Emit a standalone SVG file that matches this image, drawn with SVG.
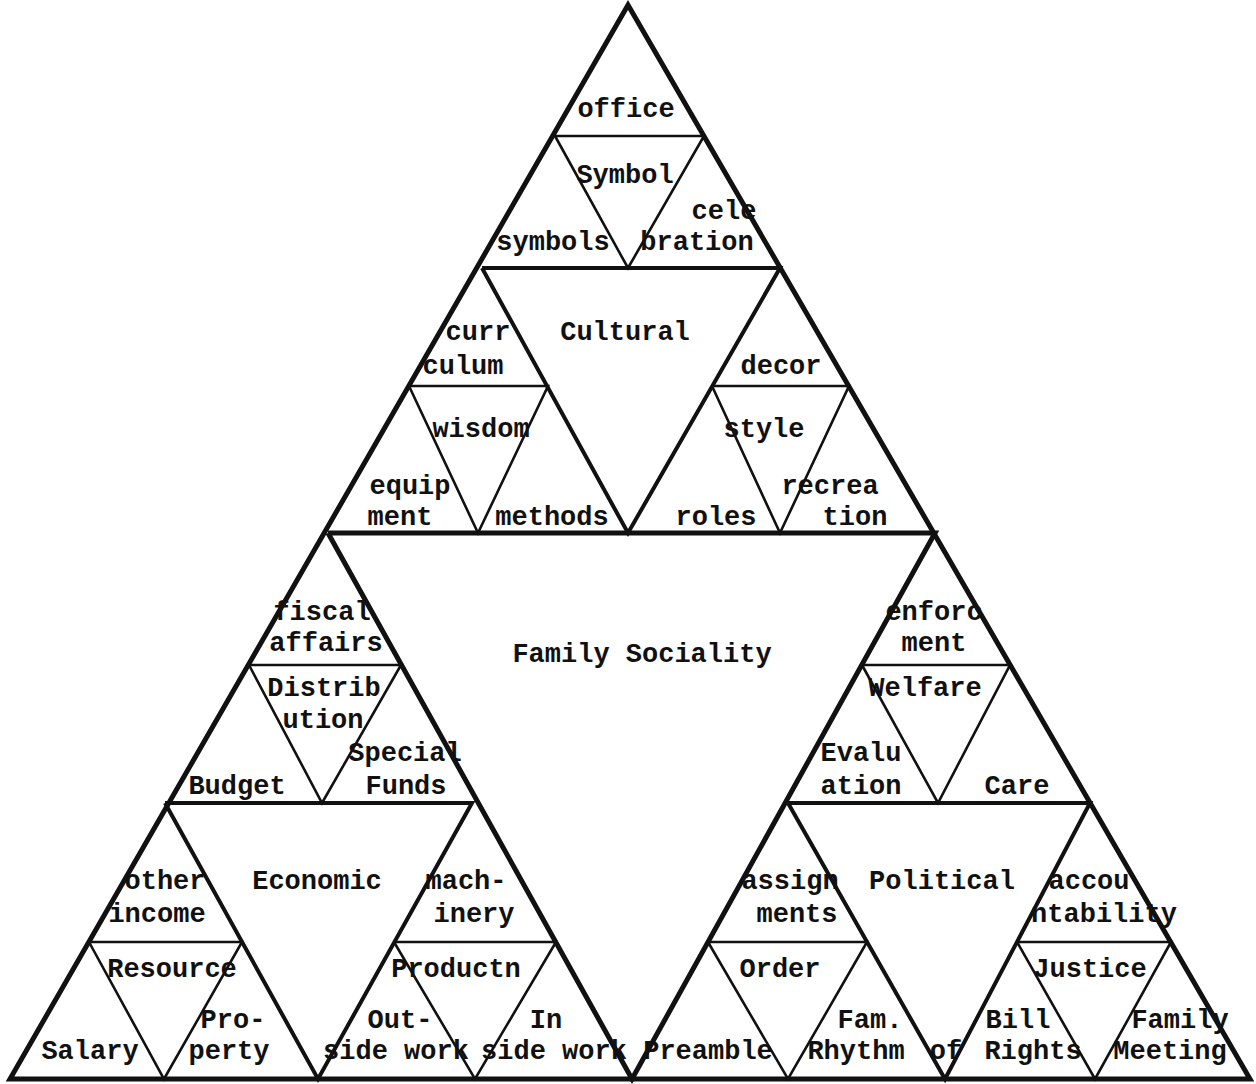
<svg xmlns="http://www.w3.org/2000/svg" width="1256" height="1084" viewBox="0 0 1256 1084">
<style>
.t{font-family:"Liberation Mono","Courier New",monospace;font-size:27px;font-weight:bold;fill:#111;text-anchor:middle}
.l1{stroke:#111;stroke-width:5;fill:none;stroke-linejoin:miter}
.l2{stroke:#111;stroke-width:4;fill:none}
.l3{stroke:#111;stroke-width:2.6;fill:none}
</style>
<rect width="1256" height="1084" fill="#fff"/>
<g id="connectors">
<polygon class="l1" points="628,5 10,1079 1250,1079"/>
<polyline class="l1" points="328,533 935,533 632,1079 328,533"/>
<polyline class="l2" points="482,268 780,268 628,533 482,268"/>
<polyline class="l2" points="165,803 472,803 318,1079 165,803"/>
<polyline class="l2" points="788,803 1090,803 945,1079 788,803"/>
<polyline class="l3" points="555,136 704,136 628,268 555,136"/>
<polyline class="l3" points="409,386 548,386 478,533 409,386"/>
<polyline class="l3" points="712,386 849,386 780,533 712,386"/>
<polyline class="l3" points="249,665 401,665 322,803 249,665"/>
<polyline class="l3" points="89,942 242,942 164,1079 89,942"/>
<polyline class="l3" points="394,942 556,942 475,1079 394,942"/>
<polyline class="l3" points="862,665 1010,665 938,803 862,665"/>
<polyline class="l3" points="708,942 867,942 788,1079 708,942"/>
<polyline class="l3" points="1017,942 1171,942 1095,1079 1017,942"/>
</g>
<g id="symbol">
<text class="t" x="626" y="117">office</text>
<text class="t" x="625" y="183">Symbol</text>
<text class="t" x="724" y="219">cele</text>
<text class="t" x="697" y="250">bration</text>
<text class="t" x="553" y="250">symbols</text>
</g>
<g id="cultural">
<text class="t" x="625" y="340">Cultural</text>
<text class="t" x="478" y="340">curr</text>
<text class="t" x="463" y="374">culum</text>
<text class="t" x="781" y="374">decor</text>
<text class="t" x="481" y="437">wisdom</text>
<text class="t" x="764" y="437">style</text>
<text class="t" x="410" y="494">equip</text>
<text class="t" x="400" y="525">ment</text>
<text class="t" x="552" y="525">methods</text>
<text class="t" x="716" y="525">roles</text>
<text class="t" x="830" y="494">recrea</text>
<text class="t" x="855" y="525">tion</text>
</g>
<g id="family-sociality">
<text class="t" x="642" y="662">Family Sociality</text>
</g>
<g id="distribution">
<text class="t" x="322" y="620">fiscal</text>
<text class="t" x="326" y="651">affairs</text>
<text class="t" x="324" y="696">Distrib</text>
<text class="t" x="323" y="728">ution</text>
<text class="t" x="405" y="761">Special</text>
<text class="t" x="406" y="794">Funds</text>
<text class="t" x="237" y="794">Budget</text>
</g>
<g id="economic">
<text class="t" x="317" y="889">Economic</text>
<text class="t" x="165" y="889">other</text>
<text class="t" x="157" y="922">income</text>
<text class="t" x="466" y="889">mach-</text>
<text class="t" x="474" y="922">inery</text>
</g>
<g id="resource">
<text class="t" x="172" y="977">Resource</text>
<text class="t" x="90" y="1059">Salary</text>
<text class="t" x="233" y="1028">Pro-</text>
<text class="t" x="229" y="1059">perty</text>
</g>
<g id="productn">
<text class="t" x="456" y="977">Productn</text>
<text class="t" x="400" y="1028">Out-</text>
<text class="t" x="396" y="1059">side work</text>
<text class="t" x="546" y="1028">In</text>
<text class="t" x="554" y="1059">side work</text>
</g>
<g id="welfare">
<text class="t" x="934" y="620">enforc</text>
<text class="t" x="934" y="651">ment</text>
<text class="t" x="925" y="696">Welfare</text>
<text class="t" x="861" y="761">Evalu</text>
<text class="t" x="861" y="794">ation</text>
<text class="t" x="1017" y="794">Care</text>
</g>
<g id="political">
<text class="t" x="942" y="889">Political</text>
<text class="t" x="790" y="889">assign</text>
<text class="t" x="797" y="922">ments</text>
<text class="t" x="1089" y="889">accou</text>
<text class="t" x="1104" y="922">ntability</text>
</g>
<g id="order">
<text class="t" x="780" y="977">Order</text>
<text class="t" x="708" y="1059">Preamble</text>
<text class="t" x="870" y="1028">Fam.</text>
<text class="t" x="856" y="1059">Rhythm</text>
</g>
<g id="of">
<text class="t" x="946" y="1059">of</text>
</g>
<g id="justice">
<text class="t" x="1090" y="977">Justice</text>
<text class="t" x="1018" y="1028">Bill</text>
<text class="t" x="1033" y="1059">Rights</text>
<text class="t" x="1180" y="1028">Family</text>
<text class="t" x="1170" y="1059">Meeting</text>
</g>
</svg>
